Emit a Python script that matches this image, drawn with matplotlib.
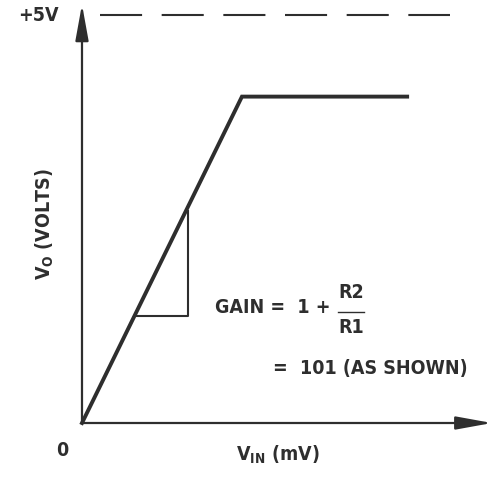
import matplotlib
matplotlib.use("Agg")
import matplotlib.pyplot as plt
from matplotlib import font_manager
from matplotlib.patches import FancyArrowPatch

# transfer curve (mV in, volts out), gain 101 saturating at about 4V
vin = [0, 39.6, 80.5]
vout = [0, 4.0, 4.0]
# slope triangle
tri_x = [13.6, 26.3, 26.3]
tri_y = [1.31, 1.31, 2.60]
supply = 5.0
supply_span = [4.5, 91.0]

ink = "#2e2e2e"

# narrow bold face if there is one, else Liberation Sans
names = {f.name for f in font_manager.fontManager.ttflist}
stretch = "normal"
if "Liberation Sans Narrow" in names:
    face, fs = "Liberation Sans Narrow", 16
elif any(f.name == "DejaVu Sans" and f.stretch == "condensed" for f in font_manager.fontManager.ttflist):
    face, fs, stretch = "DejaVu Sans", 14, "condensed"
else:
    face, fs = "Liberation Sans", 14.5
plt.rcParams['font.family'] = [face, 'DejaVu Sans']
plt.rcParams['font.weight'] = 'bold'
plt.rcParams['font.stretch'] = stretch
plt.rcParams['mathtext.fontset'] = 'custom'
plt.rcParams['mathtext.rm'] = face + ':bold'
plt.rcParams['mathtext.it'] = face + ':bold'
plt.rcParams['mathtext.bf'] = face + ':bold'

fig = plt.figure(figsize=(4.96, 4.78), dpi=100)
ax = fig.add_axes([0, 0, 1, 1])
ax.set_xlim(-20.3, 102.5)
ax.set_ylim(-0.674, 5.184)
ax.axis("off")

# axes with arrows
for start, end in [((0, 0), (0, 5.13)), ((0, 0), (101.5, 0))]:
    ax.add_patch(FancyArrowPatch(start, end, arrowstyle="-|>,head_length=1.1,head_width=0.2",
                                 mutation_scale=20, lw=1.6, color=ink, shrinkA=0, shrinkB=0))

ax.plot(supply_span, [supply, supply], color=ink, lw=1.5, dashes=(20.2, 9.4))
ax.plot(vin, vout, color=ink, lw=2.8, solid_joinstyle="miter")
ax.plot(tri_x, tri_y, color=ink, lw=1.5)

ax.text(-10.9, 5.0, "+5V", ha="center", va="center", fontsize=fs, color=ink)
ax.text(-4.95, -0.343, "0", ha="center", va="center", fontsize=fs, color=ink)
ax.text(48.5, -0.39, r"V$_{\mathrm{IN}}$ (mV)", ha="center", va="center", fontsize=fs, color=ink)
ax.text(-9.2, 2.44, r"V$_{\mathrm{O}}$ (VOLTS)", ha="center", va="center", rotation=90,
        fontsize=fs, color=ink)
ax.text(32.9, 1.41, "GAIN =  1 +", ha="left", va="center", fontsize=fs, color=ink)
ax.text(66.6, 1.605, "R2", ha="center", va="center", fontsize=fs, color=ink)
ax.plot([63.4, 69.8], [1.36, 1.36], color=ink, lw=1.0)
ax.text(66.6, 1.176, "R1", ha="center", va="center", fontsize=fs, color=ink)
ax.text(47.3, 0.674, "=  101 (AS SHOWN)", ha="left", va="center", fontsize=fs, color=ink)

fig.savefig("out.png", dpi=100)
